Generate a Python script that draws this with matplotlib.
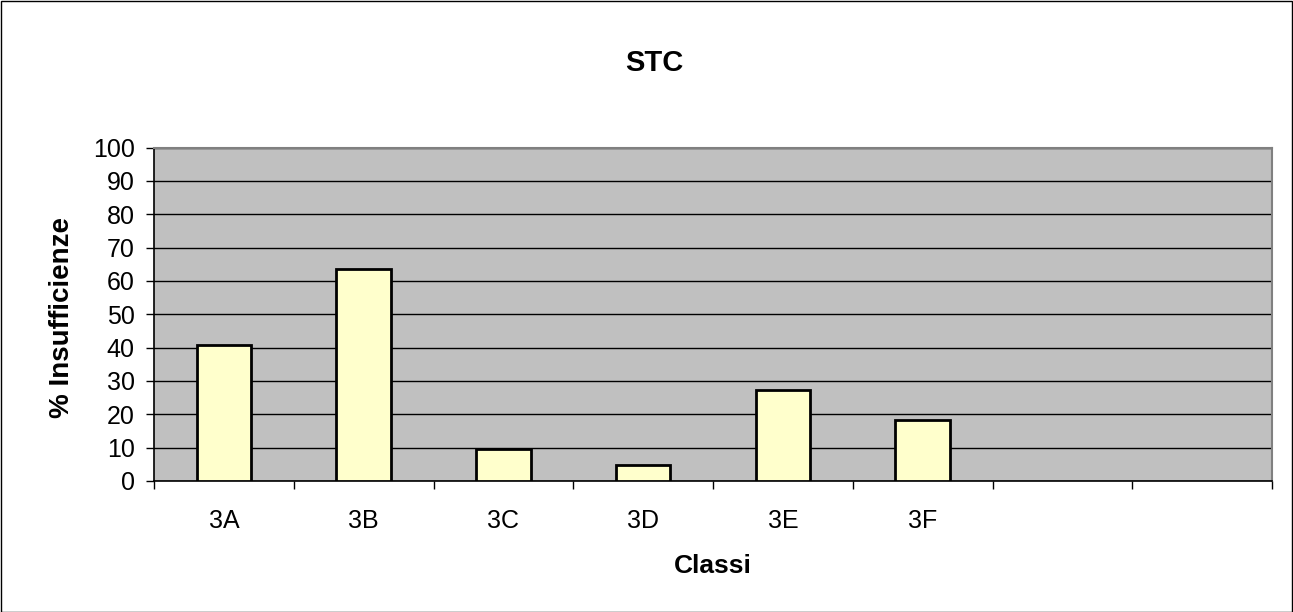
import matplotlib
matplotlib.use('Agg')
import matplotlib.pyplot as plt
from matplotlib.patches import Rectangle

plt.rcParams['font.family'] = ['Liberation Sans', 'DejaVu Sans']

# data
classi = ['3A', '3B', '3C', '3D', '3E', '3F', '', '']
insufficienze = [40.9, 63.6, 9.5, 4.8, 27.3, 18.2]
yticks = list(range(0, 101, 10))

W, H = 1293, 612
fig = plt.figure(figsize=(W / 100, H / 100), dpi=100)
# outer frame of the chart
fig.patches.append(Rectangle((0.5 / W, 0.5 / H), 1 - 1.5 / W, 1 - 1.5 / H,
                             transform=fig.transFigure, fill=False,
                             edgecolor='black', linewidth=1))

ax = fig.add_axes([154 / W, 1 - 481 / H, (1272 - 154) / W, (481 - 147.5) / H])
ax.set_facecolor('#C0C0C0')

n = len(classi)
x = list(range(n))
ax.bar(x[:len(insufficienze)], insufficienze, width=0.39, color='#FFFFCC',
       edgecolor='black', linewidth=2, zorder=3)

ax.set_xlim(-0.5, n - 0.5)
ax.set_ylim(0, 100)
ax.set_yticks(yticks)
ax.set_yticklabels([str(t) for t in yticks], fontsize=18)
ax.yaxis.grid(True, color='black', linewidth=1)
ax.set_axisbelow(True)

# ticks on the category boundaries, labels in the middle
ax.set_xticks([i - 0.5 for i in range(n + 1)])
ax.set_xticklabels([])
ax.set_xticks(x, minor=True)
ax.set_xticklabels(classi, minor=True, fontsize=18)
ax.tick_params(axis='x', which='major', direction='out', length=6, width=1, color='black')
ax.tick_params(axis='x', which='minor', length=0, pad=20)
ax.tick_params(axis='y', direction='out', length=6, width=1, pad=8)

for s in ['left', 'bottom']:
    ax.spines[s].set_color('black')
    ax.spines[s].set_linewidth(1.2)
for s in ['top', 'right']:
    ax.spines[s].set_color('#808080')
    ax.spines[s].set_linewidth(1.5)

fig.text(654 / W, 1 - 63 / H, 'STC', ha='center', va='center',
         fontsize=21, fontweight='bold')
fig.text(713 / W, 1 - 566 / H, 'Classi', ha='center', va='center',
         fontsize=19, fontweight='bold')
fig.text(62 / W, 1 - 317 / H, '% Insufficienze', ha='center', va='center',
         rotation=90, fontsize=20, fontweight='bold')

fig.savefig('out.png', dpi=100)
